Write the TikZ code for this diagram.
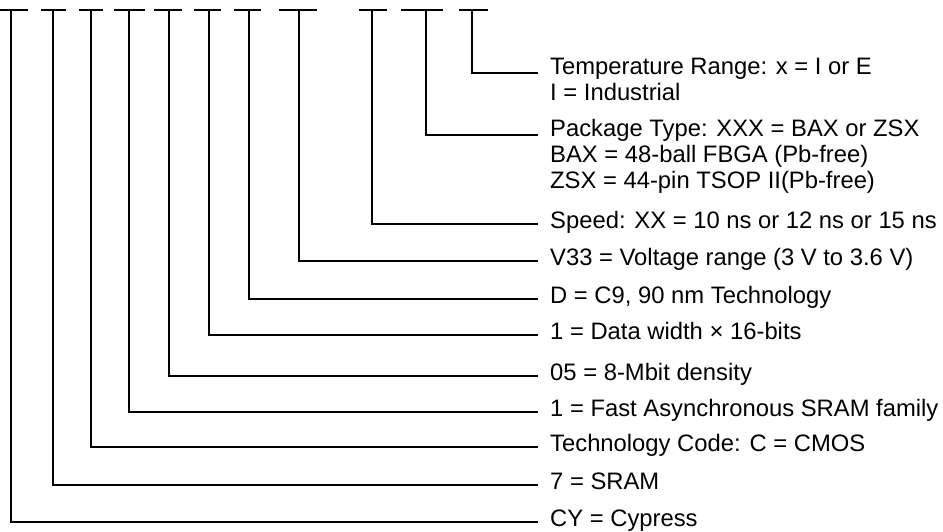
\documentclass[tikz,border=0pt]{standalone}
\usepackage{fontspec}
\setmainfont{Liberation Sans}
\usetikzlibrary{positioning}

\tikzset{
  bar/.style={line width=1.8pt},
  lead/.style={line width=1.8pt},
  desc/.style={anchor=base west, inner sep=0pt, align=left,
    font=\fontsize{23.8}{25.7}\selectfont},
}

\begin{document}
\begin{tikzpicture}[x=1pt, y=-1pt]
    \useasboundingbox (0,0) rectangle (943,531);

    % Code fields on top
    \draw [bar] (0,10) -- (28,10);
    \draw [bar] (41,10) -- (66,10);
    \draw [bar] (79,10) -- (103,10);
    \draw [bar] (114,10) -- (145,10);
    \draw [bar] (154,10) -- (182,10);
    \draw [bar] (194,10) -- (221,10);
    \draw [bar] (234,10) -- (261,10);
    \draw [bar] (279,10) -- (317,10);
    \draw [bar] (359,10) -- (387,10);
    \draw [bar] (401,10) -- (443,10);
    \draw [bar] (459,10) -- (488,10);

    \coordinate (cyTop) at (11,10);
    \coordinate (sramTop) at (53,10);
    \coordinate (techTop) at (91,10);
    \coordinate (famTop) at (129,10);
    \coordinate (densTop) at (169,10);
    \coordinate (widthTop) at (209,10);
    \coordinate (procTop) at (249,10);
    \coordinate (voltTop) at (299,10);
    \coordinate (speedTop) at (372,10);
    \coordinate (pkgTop) at (426,10);
    \coordinate (tempTop) at (472,10);

    % Line ends
    \coordinate (tempEnd) at (538,73);
    \coordinate (pkgEnd) at (538,135);
    \coordinate (speedEnd) at (538,224);
    \coordinate (voltEnd) at (538,261);
    \coordinate (procEnd) at (538,299);
    \coordinate (widthEnd) at (538,335);
    \coordinate (densEnd) at (538,376);
    \coordinate (famEnd) at (538,412);
    \coordinate (techEnd) at (538,447);
    \coordinate (sramEnd) at (538,485);
    \coordinate (cyEnd) at (538,522);

    % Descriptions (base = last line)
    \node [desc] (temp) at ([shift={(12,27)}]tempEnd) {Temperature Range: x = I or E\\I = Industrial};
    \node [desc] (pkg) at ([shift={(12,53)}]pkgEnd) {Package Type: XXX = BAX or ZSX\\BAX = 48-ball FBGA (Pb-free)\\ZSX = 44-pin TSOP II(Pb-free)};
    \node [desc] (speed) at ([shift={(12,4)}]speedEnd) {Speed: XX = 10 ns or 12 ns or 15 ns};
    \node [desc] (volt) at ([shift={(12,4)}]voltEnd) {V33 = Voltage range (3 V to 3.6 V)};
    \node [desc] (proc) at ([shift={(12,4)}]procEnd) {D = C9, 90 nm Technology};
    \node [desc] (width) at ([shift={(12,4)}]widthEnd) {1 = Data width × 16-bits};
    \node [desc] (dens) at ([shift={(12,4)}]densEnd) {05 = 8-Mbit density};
    \node [desc] (fam) at ([shift={(12,4)}]famEnd) {1 = Fast Asynchronous SRAM family};
    \node [desc] (tech) at ([shift={(12,4)}]techEnd) {Technology Code: C = CMOS};
    \node [desc] (sram) at ([shift={(12,4)}]sramEnd) {7 = SRAM};
    \node [desc] (cy) at ([shift={(12,4)}]cyEnd) {CY = Cypress};

    % Leads
    \draw [lead] (tempTop) |- (tempEnd);
    \draw [lead] (pkgTop) |- (pkgEnd);
    \draw [lead] (speedTop) |- (speedEnd);
    \draw [lead] (voltTop) |- (voltEnd);
    \draw [lead] (procTop) |- (procEnd);
    \draw [lead] (widthTop) |- (widthEnd);
    \draw [lead] (densTop) |- (densEnd);
    \draw [lead] (famTop) |- (famEnd);
    \draw [lead] (techTop) |- (techEnd);
    \draw [lead] (sramTop) |- (sramEnd);
    \draw [lead] (cyTop) |- (cyEnd);

\end{tikzpicture}
\end{document}
